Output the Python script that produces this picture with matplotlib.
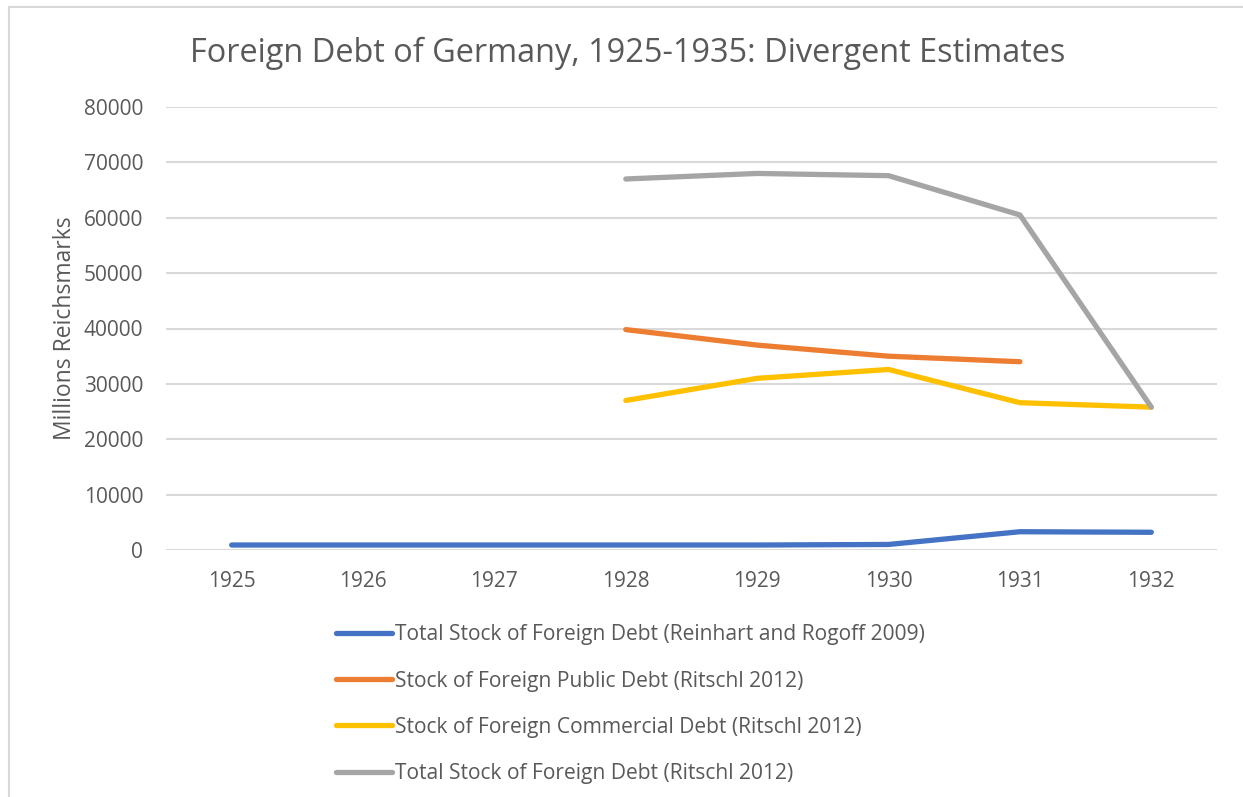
import matplotlib

matplotlib.use("Agg")
import matplotlib.pyplot as plt
from matplotlib.patches import Rectangle

plt.rcParams["font.family"] = ["Open Sans", "DejaVu Sans"]

YEARS = ["1925", "1926", "1927", "1928", "1929", "1930", "1931", "1932"]

# millions of Reichsmarks, None = no estimate for that year
REINHART_ROGOFF_TOTAL = [900, 900, 900, 900, 900, 1000, 3300, 3200]
RITSCHL_PUBLIC = [None, None, None, 39800, 37000, 35000, 34000, None]
RITSCHL_COMMERCIAL = [None, None, None, 27000, 31000, 32600, 26600, 25800]
RITSCHL_TOTAL = [None, None, None, 67000, 68000, 67600, 60500, 25800]

LABELS = [
    "Total Stock of Foreign Debt (Reinhart and Rogoff 2009)",
    "Stock of Foreign Public Debt (Ritschl 2012)",
    "Stock of Foreign Commercial Debt (Ritschl 2012)",
    "Total Stock of Foreign Debt (Ritschl 2012)",
]
COLORS = ["#4472C4", "#ED7D31", "#FFC000", "#A5A5A5"]
TEXT = "#595959"

W, H = 1243, 797
fig = plt.figure(figsize=(W / 100, H / 100), dpi=100)

# chart frame: only its top and left edges are inside the picture
fig.add_artist(Rectangle((9 / W, -0.1), 1.2, 1 - 7 / H + 0.1,
                         transform=fig.transFigure, fill=False,
                         edgecolor="#D9D9D9", linewidth=1.5))

ax = fig.add_axes([166 / W, 1 - 550 / H, (1217 - 166) / W, (550 - 107) / H])

x = list(range(len(YEARS)))
series = [REINHART_ROGOFF_TOTAL, RITSCHL_PUBLIC, RITSCHL_COMMERCIAL, RITSCHL_TOTAL]
for vals, label, color in zip(series, LABELS, COLORS):
    xs = [i for i, v in zip(x, vals) if v is not None]
    ys = [v for v in vals if v is not None]
    ax.plot(xs, ys, color=color, linewidth=3.8, label=label,
            solid_capstyle="round", solid_joinstyle="round")

ax.set_xlim(-0.5, len(YEARS) - 0.5)
ax.set_ylim(0, 80000)
ax.set_yticks(range(0, 80001, 10000))
ax.set_xticks(x)
ax.set_xticklabels(YEARS)
ax.grid(axis="y", color="#D9D9D9", linewidth=1.5)
ax.set_axisbelow(True)
for s in ax.spines.values():
    s.set_visible(False)
ax.tick_params(length=0, labelsize=15, colors=TEXT)
ax.tick_params(axis="x", pad=15)
ax.tick_params(axis="y", pad=16.5)

ax.set_ylabel("Millions Reichsmarks", fontsize=16.5, color=TEXT, labelpad=5)

fig.text(628 / W, 1 - 53 / H, "Foreign Debt of Germany, 1925-1935: Divergent Estimates",
         ha="center", va="center", fontsize=23.4, color=TEXT)

fig.legend(loc="upper left", bbox_to_anchor=(328 / W, 1 - 616 / H),
           frameon=False, fontsize=15.1, labelcolor=TEXT, handlelength=2.65,
           handletextpad=0.15, labelspacing=1.2, borderaxespad=0)

fig.savefig("out.png", dpi=100, facecolor="white")
